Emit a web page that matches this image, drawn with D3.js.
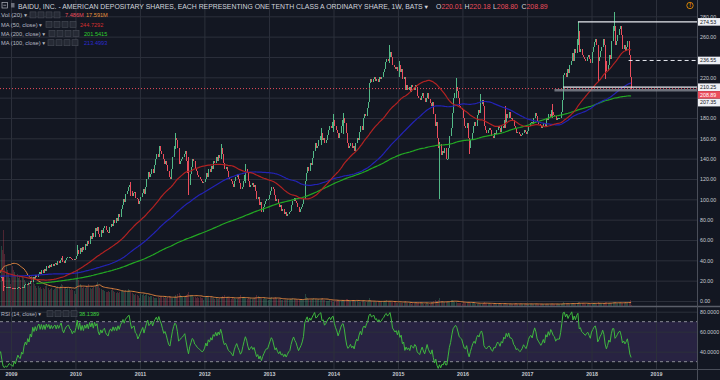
<!DOCTYPE html>
<html><head><meta charset="utf-8">
<script src="https://cdn.jsdelivr.net/npm/d3@7"></script>
<style>
html,body{margin:0;padding:0;background:#131722;overflow:hidden;}
svg{display:block;}
text{font-family:"Liberation Sans","DejaVu Sans",Arial,sans-serif;}
</style></head><body>
<svg id="c" width="720" height="380"></svg>
<script>
// ---------------- DATA (weekly closes, split-adjusted) ----------------
const lastBarDate = "2018-08-13";
const lastBarOHLC = [220.01, 220.18, 208.80, 208.89];
const closes2005 = [12.2,11.5,10.8,10.0,9.2,8.8,8.5,8.0,7.6,7.0,6.8,6.6,7.0,7.2,7.4,7.6,7.2,6.8,6.6,6.4,6.2,6.3];
const closes2006 = [6.5,6.4,6.0,5.8,5.6,5.8,6.2,6.0,5.6,5.4,5.6,5.5,5.6,6.0,6.4,6.8,7.2,7.8,8.2,8.0,7.8,8.2,8.0,7.6,7.9,8.2,7.8,7.4,7.0,7.2,7.6,8.0,8.4,8.6,8.8,8.9,9.0,8.7,8.8,8.6,8.3,8.0,8.2,8.4,9.0,10.0,10.4,10.8,11.2,11.5,11.3,11.3];
const closes2007 = [12.0,12.4,13.0,13.0,12.6,12.4,12.6,13.0,12.0,11.6,10.8,10.2,9.8,10.4,10.8,11.2,11.6,11.8,12.4,13.0,13.6,14.0,15.0,15.6,16.0,16.6,17.5,18.0,19.0,20.0,21.0,22.0,21.0,23.0,24.5,26.0,27.0,28.5,29.0,31.0,33.0,34.5,37.0,38.5,39.0,37.0,35.0,36.0,37.0,38.0,39.0,40.0,39.0];
const closes2008 = [36,32,28,30,28,27,26,25.5,25,24,23.5,24,25,27,29,33,33.5,34,35,33,32,33,32,31,31.5,31,33,35,34,33.5,33,32,30,29,28,27,26,25.5,24.5,22,21,20,23.5,24,20,15,13.5,14,13,13.5,14,13.2];
const closes2009 = [13,12,13.2,11.8,13,14,12.8,12.4,14,13.2,15.5,16.8,15.8,18,16.8,20,19,24,22.5,25.5,24,27,28.5,26.5,30,28,31.5,29.5,34,32.5,35,33,36,34.5,36.5,37.5,35.8,39,37.5,40,42,39,37.5,40,42,43,43.5,42,41.5,40,41.5,41];
const closes2010 = [44,50,46,52,48,53,50,56,54,59,56,64,61,67,63,72,69,73,66,63,70,67,72,74,70,68,67,73,76,74,80,77,82,79,86,83,90,94,100,97,105,108,112,114,108,103,106,107,101,100,95,98];
const closes2011 = [102,106,110,105,112,120,127,122,125,130,126,134,140,145,142,152,148,145,140,135,138,134,128,122,120,130,142,152,160,158,150,135,138,140,142,145,148,138,126,114,125,132,140,138,130,128,124,122,120,118,116,117];
const closes2012 = [120,126,122,130,127,133,130,138,136,142,138,144,141,150,145,136,130,132,128,122,120,118,115,112,118,122,125,120,116,110,112,118,124,130,126,118,112,114,116,112,114,108,100,102,94,97,88,92,95,98,100,100,104];
const closes2013 = [108,112,110,104,98,100,95,92,94,89,90,86,88,84,86,88,89,94,98,101,98,96,92,88,90,92,95,100,118,126,132,128,136,134,141,148,155,150,152,158,162,165,158,160,155,158,163,168,172,170,176,178];
const closes2014 = [172,168,165,160,165,172,178,180,175,165,155,150,152,155,150,152,148,155,160,158,166,172,168,180,184,182,190,196,214,218,215,218,220,216,218,215,220,218,220,225,228,235,238,236,240,245,240,232,230,228,230,226];
const closes2015 = [232,225,228,218,220,208,212,208,210,206,212,210,208,212,210,202,200,198,202,205,200,196,200,205,199,195,192,196,184,172,176,160,150,154,144,148,146,150,140,140,150,162,170,185,200,205,210,207,200,192,190,188];
const closes2016 = [180,172,170,175,160,150,158,165,172,176,172,183,188,185,194,198,192,172,168,165,168,170,168,162,160,165,164,168,172,170,166,172,170,178,176,184,180,186,180,180,178,172,170,165,166,164,162,163,165,168,166,164];
const closes2017 = [167,172,175,176,174,180,185,182,176,174,172,170,172,175,172,180,178,184,181,188,186,183,182,178,180,180,180,186,198,222,224,220,228,224,232,236,244,236,248,244,258,266,245,248,242,240,238,236,240,242,238,234];
const closes2018 = [245,250,255,258,252,236,240,246,250,258,252,236,226,232,242,238,256,270,270,252,256,262,268,270,262,248,252,246,250,256,242,220.01,208.89];

// notable wick extremes
const wickDates = ["2008-11-17","2009-10-19","2010-01-11","2010-11-08","2011-07-18","2011-10-03","2012-04-02","2012-08-20","2013-10-21","2013-12-30","2014-02-24","2014-11-10","2015-01-05","2015-08-24","2015-11-23","2016-02-08","2016-04-11","2016-08-29","2017-05-22","2017-10-16","2018-02-05","2018-03-19","2018-05-07"];
const wickHigh  = [24,44,55,117,165.5,142,154,135,170,184,185,251.5,236,156,219,160,204,192,194,274.53,245,240,284.22];
const wickLow   = [10,38,44,103,149,104,140,116,153,166,164,234,220,100,200,145,187,170,180,252,215,218,266];

// weekly volume (millions), from 2008-06-16
const vol2008 = [120,110,130,140,150,130,120,110,100,120,140,160,170,180,200,220,250,240,230,220,300,280,380,260,200,180,160,140,110];
const vol2009 = [200,180,170,150,160,140,150,130,150,140,130,120,110,120,110,100,150,130,110,100,90,100,90,95,85,90,85,100,110,90,80,85,90,80,85,90,95,100,90,100,110,105,95,90,85,95,90,80,85,80,75,60];
const vol2010 = [140,180,130,110,100,90,95,90,100,95,110,90,85,90,95,100,110,120,100,90,85,80,80,75,70,70,75,70,80,85,75,70,65,70,65,70,75,80,70,75,80,70,85,80,70,65,60,55,60,55,50,40];
const vol2011 = [60,55,60,50,55,60,50,45,50,50,45,40,40,40,45,40,45,50,45,40,45,40,45,50,45,40,40,45,55,45,60,65,55,50,45,45,50,55,60,70,55,50,55,45,45,40,45,40,45,40,40,30];
const vol2012 = [45,50,45,50,45,45,40,40,35,40,35,35,40,45,50,45,55,45,45,40,40,35,40,35,40,35,35,40,45,55,45,40,45,40,35,40,35,40,35,35,40,45,55,50,45,40,40,35,40,35,35,30,30];
const vol2013 = [40,45,40,35,45,40,35,35,35,30,30,30,30,30,35,30,35,35,40,35,30,30,30,35,30,30,30,35,60,45,40,35,30,30,35,40,35,30,30,35,30,35,40,30,30,25,25,25,30,25,20,20];
const vol2014 = [25,25,30,30,25,25,30,30,30,35,35,30,25,25,30,25,30,25,25,20,20,20,25,25,20,20,20,25,40,30,25,20,20,20,20,25,20,20,25,20,25,25,30,25,20,20,20,20,25,20,15,15];
const vol2015 = [15,15,15,15,20,25,15,15,15,15,12,15,15,15,15,15,20,20,15,15,12,12,15,15,12,12,20,18,25,30,25,25,30,40,25,25,20,18,18,18,20,22,30,30,25,20,18,15,15,15,14,10];
const vol2016 = [18,16,15,14,16,18,15,14,13,13,12,12,12,11,12,12,15,20,15,13,12,11,11,12,10,12,10,10,11,10,11,12,10,10,9,10,11,10,10,10,10,11,14,13,12,11,10,10,10,9,9,8];
const vol2017 = [9,10,11,10,10,12,11,10,10,10,9,10,9,9,10,10,11,12,11,10,10,9,10,9,10,10,10,11,12,20,16,13,12,11,12,13,14,14,13,15,14,18,20,14,13,12,12,11,12,11,10,9];
const vol2018 = [12,13,14,15,14,18,16,14,13,15,14,18,20,16,15,14,16,22,20,18,15,14,14,15,16,17,16,18,17,18,22,28,7.486];

const priceTicks = [0,20,40,60,80,100,120,140,160,180,200,220,240,260,280];
const rsiTicks = [40,60,80];
const rsiBands = [70,30];
const yearTicks = [2009,2010,2011,2012,2013,2014,2015,2016,2017,2018,2019];

const levelValues = [274.53, 236.55, 210.25, 207.35];
const levelStarts = ["2017-10-16","2018-07-30","2017-07-24","2017-06-05"];

const titleText = "BAIDU, INC. - AMERICAN DEPOSITARY SHARES, EACH REPRESENTING ONE TENTH CLASS A ORDINARY SHARE, 1W, BATS";
const legendLabels = ["Vol (20)","MA (50, close)","MA (200, close)","MA (100, close)"];
const legendValues = [["7.486M","17.591M"],["244.7292"],["201.5415"],["213.4993"]];
const rsiLabel = "RSI (14, close)";
const rsiValue = "38.1389";

// ---------------- BUILD ----------------
const parse = d3.utcParse("%Y-%m-%d");
const fmtDay = d3.utcFormat("%Y-%m-%d");
const closes = [].concat(closes2005,closes2006,closes2007,closes2008,closes2009,closes2010,closes2011,closes2012,closes2013,closes2014,closes2015,closes2016,closes2017,closes2018);
const n = closes.length;
const lastDate = parse(lastBarDate);
const dates = closes.map((_,i)=>d3.utcDay.offset(lastDate,-7*(n-1-i)));
const opens = closes.map((c,i)=> i ? closes[i-1] : c);
const highs = closes.map((c,i)=>Math.max(c,opens[i]));
const lows  = closes.map((c,i)=>Math.min(c,opens[i]));
opens[n-1]=lastBarOHLC[0]; highs[n-1]=lastBarOHLC[1]; lows[n-1]=lastBarOHLC[2]; closes[n-1]=lastBarOHLC[3];
const idxByDate = new Map(dates.map((d,i)=>[fmtDay(d),i]));
wickDates.forEach((s,k)=>{const i=idxByDate.get(s); if(i!==undefined){highs[i]=Math.max(highs[i],wickHigh[k]); lows[i]=Math.min(lows[i],wickLow[k]);}});

const volumes = [].concat(vol2008,vol2009,vol2010,vol2011,vol2012,vol2013,vol2014,vol2015,vol2016,vol2017,vol2018);
const vStart = n - volumes.length;

function sma(arr,p){return arr.map((v,i)=> i>=p-1 ? d3.mean(arr.slice(i-p+1,i+1)) : null);}
function rsiCalc(arr,p){
  const out=new Array(arr.length).fill(null); let g=0,l=0;
  for(let i=1;i<arr.length;i++){
    const ch=arr[i]-arr[i-1], up=Math.max(ch,0), dn=Math.max(-ch,0);
    if(i<=p){g+=up;l+=dn; if(i===p){g/=p;l/=p;out[i]=l===0?100:100-100/(1+g/l);}}
    else {g=(g*(p-1)+up)/p; l=(l*(p-1)+dn)/p; out[i]=l===0?100:100-100/(1+g/l);}
  }
  return out;
}
const ma50=sma(closes,50), ma100=sma(closes,100), ma200=sma(closes,200);
const rsi=rsiCalc(closes,14);
const volMa=sma(volumes,20);

// ---------------- LAYOUT ----------------
const W=720,H=380,plotR=697,priceBot=306,rsiTop=307,rsiBot=369;
const svg=d3.select("#c");
svg.append("rect").attr("width",W).attr("height",H).attr("fill","#131722");
const defs=svg.append("defs");
defs.append("clipPath").attr("id","clipP").append("rect").attr("x",0).attr("y",0).attr("width",plotR).attr("height",priceBot);
defs.append("clipPath").attr("id","clipR").append("rect").attr("x",0).attr("y",rsiTop).attr("width",plotR).attr("height",rsiBot-rsiTop);

const x=d3.scaleUtc().domain([new Date(Date.UTC(2009,0,1)),new Date(Date.UTC(2019,0,1))]).range([11,656]);
const y=d3.scaleLinear().domain([0,280]).range([301,16.3]);
const yR=d3.scaleLinear().domain([30,80]).range([361.7,311.7]);
const visVols = volumes.filter((v,j)=>dates[vStart+j] >= parse("2008-10-27"));
const yV=d3.scaleLinear().domain([0,d3.max(visVols)]).range([priceBot, priceBot-0.2*d3.max(visVols)]);

const gridColor="#2c303b";
svg.append("rect").attr("x",0).attr("width",plotR).attr("y",yR(rsiBands[0])).attr("height",yR(rsiBands[1])-yR(rsiBands[0])).attr("fill","#7e57c2").attr("opacity",0.2);

const yearDates=yearTicks.map(t=>new Date(Date.UTC(t,0,1)));
const gx=svg.append("g").attr("transform",`translate(0,${rsiBot})`)
  .call(d3.axisBottom(x).tickValues(yearDates).tickSize(-rsiBot).tickFormat(""));
gx.select(".domain").remove();
gx.selectAll("line").attr("stroke",gridColor);
const gy=svg.append("g").attr("transform",`translate(${plotR},0)`)
  .call(d3.axisRight(y).tickValues(priceTicks).tickSize(-plotR).tickFormat(""));
gy.select(".domain").remove(); gy.selectAll("line").attr("stroke",gridColor);
const gyr=svg.append("g").attr("transform",`translate(${plotR},0)`)
  .call(d3.axisRight(yR).tickValues(rsiTicks).tickSize(-plotR).tickFormat(""));
gyr.select(".domain").remove(); gyr.selectAll("line").attr("stroke",gridColor);

const pane=svg.append("g").attr("clip-path","url(#clipP)");
const upC="#53b987", dnC="#eb4d5c";
const firstVis=parse("2008-10-20");
const volIdx=d3.range(volumes.length).filter(j=>dates[vStart+j]>=firstVis);
pane.append("g").selectAll("rect").data(volIdx).join("rect")
  .attr("x",j=>Math.round(x(dates[vStart+j])))
  .attr("width",1)
  .attr("y",j=>yV(volumes[j]))
  .attr("height",j=>priceBot-yV(volumes[j]))
  .attr("fill",j=>closes[vStart+j]>=opens[vStart+j]?upC:dnC)
  .attr("opacity",0.28).attr("shape-rendering","crispEdges");
pane.append("path").datum(volIdx.filter(j=>volMa[j]!=null))
  .attr("fill","none").attr("stroke","#d9813f").attr("stroke-width",1)
  .attr("d",d3.line().x(j=>x(dates[vStart+j])).y(j=>yV(volMa[j])));

const cIdx=d3.range(n).filter(i=>dates[i]>=firstVis);
pane.append("g").selectAll("rect").data(cIdx).join("rect")
  .attr("x",i=>Math.round(x(dates[i])))
  .attr("width",1)
  .attr("y",i=>y(highs[i]))
  .attr("height",i=>Math.max(1,y(lows[i])-y(highs[i])))
  .attr("fill",i=>closes[i]>=opens[i]?upC:dnC)
  .attr("shape-rendering","crispEdges");

const maLine=arr=>d3.line().defined(i=>arr[i]!=null).x(i=>x(dates[i])).y(i=>y(arr[i]));
const maIdx=d3.range(n).filter(i=>dates[i]>=parse("2008-09-01"));
[[ma200,"#23a823"],[ma100,"#2323b5"],[ma50,"#b22222"]].forEach(([arr,col])=>{
  pane.append("path").datum(maIdx).attr("fill","none").attr("stroke",col).attr("stroke-width",1.2).attr("d",maLine(arr));
});

pane.append("line").attr("x1",0).attr("x2",plotR).attr("y1",y(lastBarOHLC[3])).attr("y2",y(lastBarOHLC[3]))
  .attr("stroke",dnC).attr("stroke-width",1).attr("stroke-dasharray","1,2");
const levelStyle=[{c:"#e6e8ee",w:1.2,d:null},{c:"#e6e8ee",w:1,d:"4,3"},{c:"#e6e8ee",w:1.2,d:null},{c:"#8c8f99",w:2.5,d:null}];
levelValues.forEach((v,k)=>{
  const l=svg.append("line").attr("x1",x(parse(levelStarts[k]))).attr("x2",plotR)
    .attr("y1",y(v)).attr("y2",y(v)).attr("stroke",levelStyle[k].c).attr("stroke-width",levelStyle[k].w)
    .attr("opacity",k===3?0.75:1);
  if(levelStyle[k].d) l.attr("stroke-dasharray",levelStyle[k].d);
});

const rpane=svg.append("g").attr("clip-path","url(#clipR)");
rsiBands.forEach(b=>rpane.append("line").attr("x1",0).attr("x2",plotR).attr("y1",yR(b)).attr("y2",yR(b))
  .attr("stroke","#8a8d96").attr("stroke-dasharray","3,3").attr("stroke-width",1));
rpane.append("path").datum(cIdx.filter(i=>rsi[i]!=null)).attr("fill","none").attr("stroke","#3fb83f").attr("stroke-width",1)
  .attr("d",d3.line().x(i=>x(dates[i])).y(i=>yR(rsi[i])));

svg.append("line").attr("x1",0).attr("x2",W).attr("y1",306.5).attr("y2",306.5).attr("stroke","#5a5e69").attr("stroke-width",1.3);
svg.append("line").attr("x1",0).attr("x2",W).attr("y1",369.5).attr("y2",369.5).attr("stroke","#4a4e59");
svg.append("line").attr("x1",plotR+0.5).attr("x2",plotR+0.5).attr("y1",0).attr("y2",H).attr("stroke","#4a4e59");

const boxItems=[{v:levelValues[0],bg:"#eef0f5",fg:"#131722"},{v:levelValues[1],bg:"#eef0f5",fg:"#131722"},
  {v:levelValues[2],bg:"#eef0f5",fg:"#131722"},{v:lastBarOHLC[3],bg:dnC,fg:"#ffffff"},{v:levelValues[3],bg:"#eef0f5",fg:"#131722"}]
  .sort((a,b)=>b.v-a.v);
let prevY=-100;
boxItems.forEach(b=>{ b.cy=Math.max(y(b.v),prevY+7.7); prevY=b.cy; });

const axisFont=5.3, axisCol="#c8cbd2";
const ay=svg.append("g").attr("transform",`translate(${plotR},0)`)
  .call(d3.axisRight(y).tickValues(priceTicks.filter(t=>boxItems.every(b=>Math.abs(y(t)-b.cy)>=5))).tickSize(0).tickPadding(3).tickFormat(d3.format(".2f")));
ay.select(".domain").remove();
ay.selectAll("text").attr("font-size",axisFont).attr("fill",axisCol);
const ayr=svg.append("g").attr("transform",`translate(${plotR},0)`)
  .call(d3.axisRight(yR).tickValues(rsiTicks).tickSize(0).tickPadding(3).tickFormat(d3.format(".4f")));
ayr.select(".domain").remove();
ayr.selectAll("text").attr("font-size",axisFont).attr("fill",axisCol);
const ax=svg.append("g").attr("transform",`translate(0,${rsiBot})`)
  .call(d3.axisBottom(x).tickValues(yearDates).tickSize(0).tickPadding(3.5).tickFormat(d3.utcFormat("%Y")));
ax.select(".domain").remove();
ax.selectAll("text").attr("font-size",axisFont).attr("fill",axisCol).attr("font-weight","bold");
[ay,ayr,ax].forEach(g=>g.attr("font-family",null));

boxItems.forEach(b=>{
  svg.append("rect").attr("x",plotR+1).attr("y",b.cy-3.8).attr("width",W-plotR-1).attr("height",7.6).attr("fill",b.bg);
  svg.append("text").attr("x",plotR+3).attr("y",b.cy).attr("dy","0.35em").attr("font-size",axisFont).attr("fill",b.fg).text(d3.format(".2f")(b.v));
});

// ---------------- LEGEND ----------------
const txtCol="#d1d4dc", lblCol="#b8bbc3";
svg.append("rect").attr("x",2).attr("y",2.5).attr("width",5.5).attr("height",5.5).attr("fill","none").attr("stroke","#b2b5be").attr("stroke-width",0.7);
svg.append("line").attr("x1",3.3).attr("x2",6.2).attr("y1",5.25).attr("y2",5.25).attr("stroke","#b2b5be").attr("stroke-width",0.7);
svg.append("rect").attr("x",11).attr("y",3).attr("width",3.5).attr("height",4.5).attr("fill","#6a6d78");
svg.append("text").attr("x",18).attr("y",8.8).attr("font-size",6.4).attr("fill",txtCol)
  .attr("textLength",410).attr("lengthAdjust","spacingAndGlyphs").text(titleText+" \u25BE");
const ohlcX=[436,464.5,493,521.5];
["O","H","L","C"].forEach((k,i)=>{
  const t=svg.append("text").attr("x",ohlcX[i]).attr("y",8.8).attr("font-size",6.9);
  t.append("tspan").attr("fill",txtCol).text(k);
  t.append("tspan").attr("fill",dnC).text(d3.format(".2f")(lastBarOHLC[i]));
});
svg.append("circle").attr("cx",690).attr("cy",5.5).attr("r",3.2).attr("fill","none").attr("stroke","#ff9800").attr("stroke-width",0.8);
svg.append("text").attr("x",690).attr("y",5.5).attr("dy","0.35em").attr("text-anchor","middle").attr("font-size",5).attr("font-weight","bold").attr("fill","#ff9800").text("!");

const rowBase=[17.2,26.6,35.7,45.0];
const rowLblW=[26,41,44,44];
const rowIconX=[30,46,49,48];
const rowValX=[[65,86],[80],[84],[84]];
const rowValCol=[[dnC,"#e8913d"],["#d32f2f"],["#2fd12f"],["#2b2bd0"]];
function icons(x0,base){
  for(let k=0;k<4;k++){
    svg.append("rect").attr("x",x0+k*8).attr("y",base-5.3).attr("width",6).attr("height",6)
      .attr("fill","#262a35").attr("stroke","#494d58").attr("stroke-width",0.6);
  }
}
legendLabels.forEach((lab,r)=>{
  svg.append("text").attr("x",1).attr("y",rowBase[r]).attr("font-size",5.6).attr("fill",lblCol)
    .attr("textLength",rowLblW[r]).attr("lengthAdjust","spacingAndGlyphs").text(lab+" \u25BE");
  icons(rowIconX[r],rowBase[r]);
  legendValues[r].forEach((v,k)=>{
    svg.append("text").attr("x",rowValX[r][k]).attr("y",rowBase[r]).attr("font-size",5.6).attr("fill",rowValCol[r][k]).text(v);
  });
});
svg.append("text").attr("x",1).attr("y",316).attr("font-size",5.6).attr("fill",lblCol)
  .attr("textLength",40).attr("lengthAdjust","spacingAndGlyphs").text(rsiLabel+" \u25BE");
icons(47,316);
svg.append("text").attr("x",79).attr("y",316).attr("font-size",5.6).attr("fill","#3fcf3f").text(rsiValue);
</script>
</body></html>
